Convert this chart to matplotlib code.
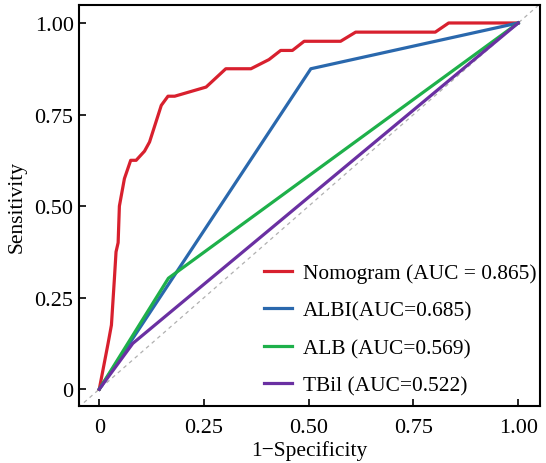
import numpy as np
import matplotlib
matplotlib.use('Agg')
import matplotlib.pyplot as plt

plt.rcParams['font.family'] = ['Liberation Serif', 'DejaVu Serif']

# ROC points
nomo_fpr = [0, 0.021, 0.029, 0.036, 0.040, 0.045, 0.048, 0.060, 0.075, 0.088, 0.108,
            0.120, 0.148, 0.164, 0.180, 0.255, 0.302, 0.362, 0.405, 0.433, 0.461,
            0.489, 0.576, 0.612, 0.802, 0.834, 1.0]
nomo_tpr = [0, 0.125, 0.175, 0.30, 0.375, 0.40, 0.50, 0.575, 0.625, 0.625, 0.650,
            0.675, 0.775, 0.80, 0.80, 0.825, 0.875, 0.875, 0.90, 0.925, 0.925,
            0.95, 0.95, 0.975, 0.975, 1.0, 1.0]
albi_fpr = [0, 0.505, 1.0]
albi_tpr = [0, 0.875, 1.0]
alb_fpr = [0, 0.165, 1.0]
alb_tpr = [0, 0.303, 1.0]
tbil_fpr = [0, 0.080, 1.0]
tbil_tpr = [0, 0.125, 1.0]

labels = ['Nomogram (AUC = 0.865)', 'ALBI(AUC=0.685)', 'ALB (AUC=0.569)', 'TBil (AUC=0.522)']
colors = ['#d8202e', '#2a68ad', '#1eb04a', '#6a30a2']
ticks = [0, 0.25, 0.5, 0.75, 1.0]
tick_labels = ['0', '0.25', '0.50', '0.75', '1.00']

fig = plt.figure(figsize=(5.46, 4.64), dpi=100)
ax = fig.add_axes([0.145, 0.122, 0.844, 0.865])

ax.plot([-0.05, 1.05], [-0.05, 1.05], linestyle=(0, (3, 3)), color='#b0b0b0', linewidth=0.9)
series = [(nomo_fpr, nomo_tpr), (albi_fpr, albi_tpr), (alb_fpr, alb_tpr), (tbil_fpr, tbil_tpr)]
for (x, y), lab, c in zip(series, labels, colors):
    ax.plot(x, y, color=c, linewidth=2.3, label=lab)

ax.set_xlim(-0.048, 1.052)
ax.set_ylim(-0.047, 1.049)
ax.set_xticks(ticks)
ax.set_xticklabels(tick_labels)
ax.set_yticks(ticks)
ax.set_yticklabels(tick_labels)
ax.tick_params(direction='in', length=5, width=1.2, labelsize=16, pad=4)
ax.tick_params(axis='x', pad=8.5)
for s in ax.spines.values():
    s.set_linewidth(1.5)
ax.set_xlabel('1\u2212Specificity', fontsize=15.5, labelpad=2)
ax.set_ylabel('Sensitivity', fontsize=15.5, labelpad=6)

ax.legend(loc='lower right', frameon=False, fontsize=15.4, handlelength=1.3,
          handletextpad=0.5, labelspacing=0.82, borderaxespad=0.2,
          bbox_to_anchor=(1.02, -0.005))

fig.savefig('out.png', dpi=100)
